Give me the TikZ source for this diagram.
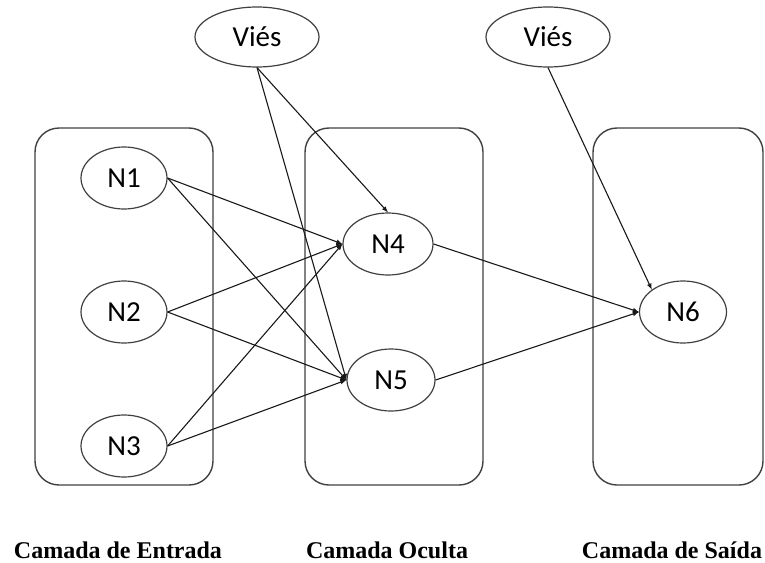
\documentclass[tikz,border=0pt]{standalone}
\usepackage{fontspec}
\setmainfont{Liberation Serif}
\newfontfamily\nodefont{Carlito}
\usetikzlibrary{shapes, arrows, positioning}

\begin{document}
\begin{tikzpicture}[x=1pt, y=-1pt,
    neuron/.style={ellipse, draw=black!75, line width=1.2pt, minimum width=86pt, minimum height=62pt, inner sep=0pt, font=\fontsize{29}{31}\selectfont\nodefont},
    bias/.style={neuron, minimum width=124pt, minimum height=60pt},
    layer/.style={draw=black!75, line width=1.4pt, rounded corners=24pt},
    conn/.style={-latex, line width=1.1pt, black!90},
    caption/.style={font=\fontsize{24}{26}\selectfont\bfseries}]
    \useasboundingbox (0,0) rectangle (765,562);

    % Layers
    \draw[layer] (35,128) rectangle (213,485);
    \draw[layer] (305,128) rectangle (483,485);
    \draw[layer] (593,128) rectangle (763,485);

    % Neurons
    \node[neuron] (n1) at (124,178) {N1};
    \node[neuron] (n2) at (124,312) {N2};
    \node[neuron] (n3) at (124,446) {N3};
    \node[neuron, minimum width=90pt] (n4) at (388,244) {N4};
    \node[neuron, minimum width=88pt] (n5) at (391,380) {N5};
    \node[neuron, minimum width=87pt] (n6) at (683,312) {N6};
    \node[bias] (v1) at (257,37) {Viés};
    \node[bias] (v2) at (548,37) {Viés};

    % Connections
    \foreach \src in {n1, n2, n3} {
        \draw[conn] (\src.east) -- (n4.west);
        \draw[conn] (\src.east) -- (n5.west);
    }
    \draw[conn] (v1.south) -- (n4.north);
    \draw[conn] (v1.south) -- (n5.west);
    \draw[conn] (n4.east) -- (n6.west);
    \draw[conn] (n5.east) -- (n6.west);
    \draw[conn] (v2.south) -- (n6.north west);

    % Labels
    \node[caption] (entrada) at (118,550) {Camada de Entrada};
    \node[caption] (oculta) at (387,550) {Camada Oculta};
    \node[caption] (saida) at (672,550) {Camada de Saída};
\end{tikzpicture}
\end{document}
